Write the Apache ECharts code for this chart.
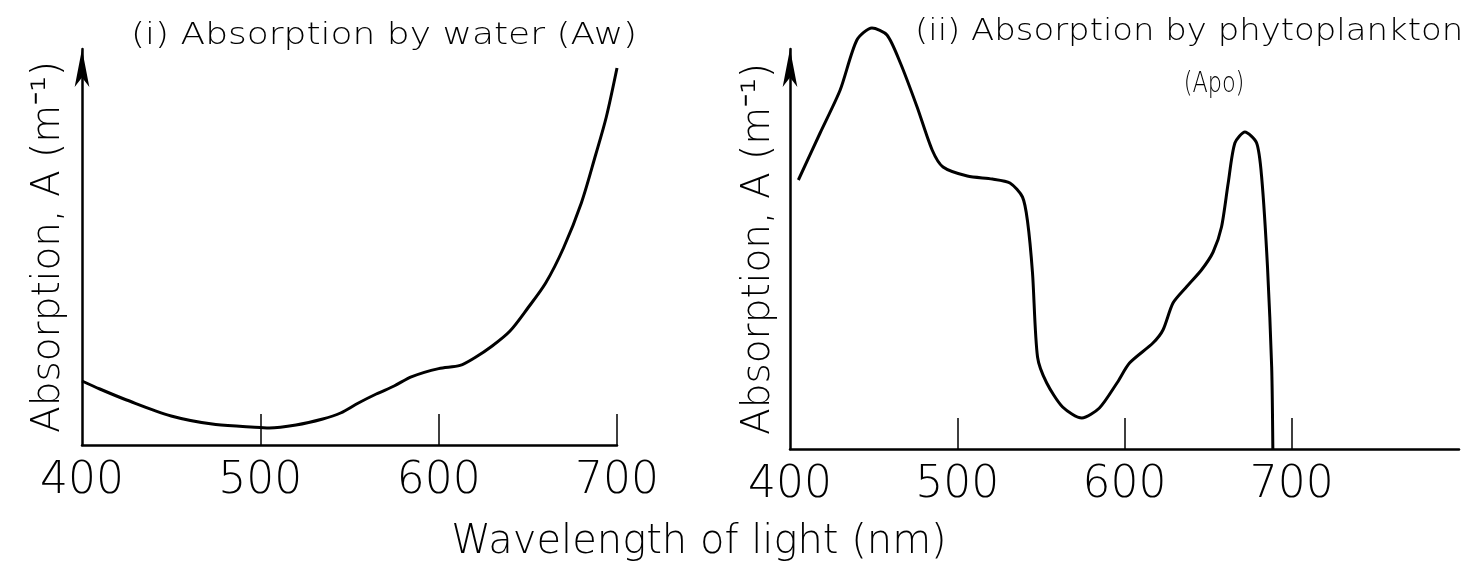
<!DOCTYPE html>
<html><head><meta charset="utf-8">
<script src="https://cdn.jsdelivr.net/npm/echarts@6/dist/echarts.min.js"></script>
<style>html,body{margin:0;padding:0;background:#fff}#c{width:1464px;height:563px}</style>
</head><body><div id="c"></div>
<script>
// Panel (i): absorption by water
const waterNm = [400, 410, 425, 450, 475, 500, 505, 520, 535, 545, 555, 565, 575, 585, 600, 612, 620, 630, 640, 650, 660, 670, 680, 688, 694, 700];
const waterA  = [16, 14, 11.25, 7.25, 5.1, 4.4, 4.25, 5.0, 6.5, 8, 10.5, 12.75, 14.75, 17.1, 19.1, 19.9, 21.75, 24.75, 28.5, 34.25, 40.5, 49.25, 60.5, 72.5, 82, 94.25];
// Panel (ii): absorption by phytoplankton
const phytoNm = [405, 418, 430, 440, 449, 458, 466, 476, 485, 491.5, 506, 521, 531.5, 539, 542, 545, 548, 553.5, 563, 574.5, 585, 595.5, 603, 617, 623, 629, 637, 646, 653, 658, 662, 666, 672, 679, 682, 685.5, 688, 688.7];
const phytoA  = [67.25, 79, 89.75, 102.25, 105.25, 103.5, 96.5, 85.5, 74.75, 70.5, 68.25, 67.5, 66.5, 63, 57, 44, 23, 16.5, 10.5, 7.75, 10.25, 16.5, 21.5, 26.5, 29.75, 36.5, 40.5, 44.75, 49.25, 55.5, 66.5, 76.5, 79.25, 76.5, 68, 45.5, 20.5, 0];
const tickLabels = [400, 500, 600, 700];
const tickMarks = [500, 600, 700];
const panelTitles = ['(i) Absorption by water (Aw)', '(ii) Absorption by phytoplankton', '(Apo)'];
const xAxisTitle = 'Wavelength of light (nm)';
const yAxisTitle = 'Absorption, A (m\u207B\u00B9)';

const FONT = "'DejaVu Sans', sans-serif";
const chart = echarts.init(document.getElementById('c'), null, {renderer: 'canvas'});

function xAx(gi, max) {
  return {
    type: 'value', gridIndex: gi, min: 400, max: max, interval: 100,
    axisLine: {show: true, onZero: false, lineStyle: {color: '#000', width: 2.5}},
    axisTick: {show: true, inside: true, length: 31, customValues: tickMarks, lineStyle: {color: '#000', width: 1.5}},
    axisLabel: {show: true, customValues: tickLabels, margin: 15, fontSize: 44, fontFamily: FONT, fontWeight: 200, color: '#000'},
    splitLine: {show: false}
  };
}
function yAx(gi, max, gap) {
  return {
    type: 'value', gridIndex: gi, min: 0, max: max,
    axisLine: {show: true, onZero: false, lineStyle: {color: '#000', width: 2.5}, symbol: ['none', 'arrow'], symbolSize: [11, 38]},
    axisTick: {show: false}, axisLabel: {show: false}, splitLine: {show: false},
    name: yAxisTitle, nameLocation: 'middle', nameRotate: 90, nameGap: gap,
    nameTextStyle: {fontSize: 39, fontFamily: FONT, fontWeight: 200, color: '#000'}
  };
}
function zip(a, b) { return a.map((v, i) => [v, b[i]]); }

chart.setOption({
  backgroundColor: '#fff',
  animation: false,
  grid: [
    {left: 82, top: 49, width: 535, height: 396},
    {left: 790, top: 49, width: 669, height: 400}
  ],
  xAxis: [xAx(0, 700), xAx(1, 800)],
  yAxis: [yAx(0, 99, 14), yAx(1, 100, 12)],
  series: [
    {type: 'line', xAxisIndex: 0, yAxisIndex: 0, data: zip(waterNm, waterA), smooth: 0.3, symbol: 'none', clip: false,
     lineStyle: {color: '#000', width: 3}},
    {type: 'line', xAxisIndex: 1, yAxisIndex: 1, data: zip(phytoNm, phytoA), smooth: 0.25, symbol: 'none', clip: false,
     lineStyle: {color: '#000', width: 3}}
  ],
  graphic: [
    {type: 'text', x: 131, y: 21, scaleX: 1.2, style: {text: panelTitles[0], font: '200 30px ' + FONT, fill: '#000', textAlign: 'left', textVerticalAlign: 'top'}},
    {type: 'text', x: 915, y: 17, scaleX: 1.13, style: {text: panelTitles[1], font: '200 30px ' + FONT, fill: '#000', textAlign: 'left', textVerticalAlign: 'top'}},
    {type: 'text', x: 1214, y: 71, scaleX: 0.8, style: {text: panelTitles[2], font: '200 28px ' + FONT, fill: '#000', textAlign: 'center', textVerticalAlign: 'top'}},
    {type: 'text', x: 699, y: 523, style: {text: xAxisTitle, font: '200 40px ' + FONT, fill: '#000', textAlign: 'center', textVerticalAlign: 'top'}}
  ]
});
</script></body></html>
